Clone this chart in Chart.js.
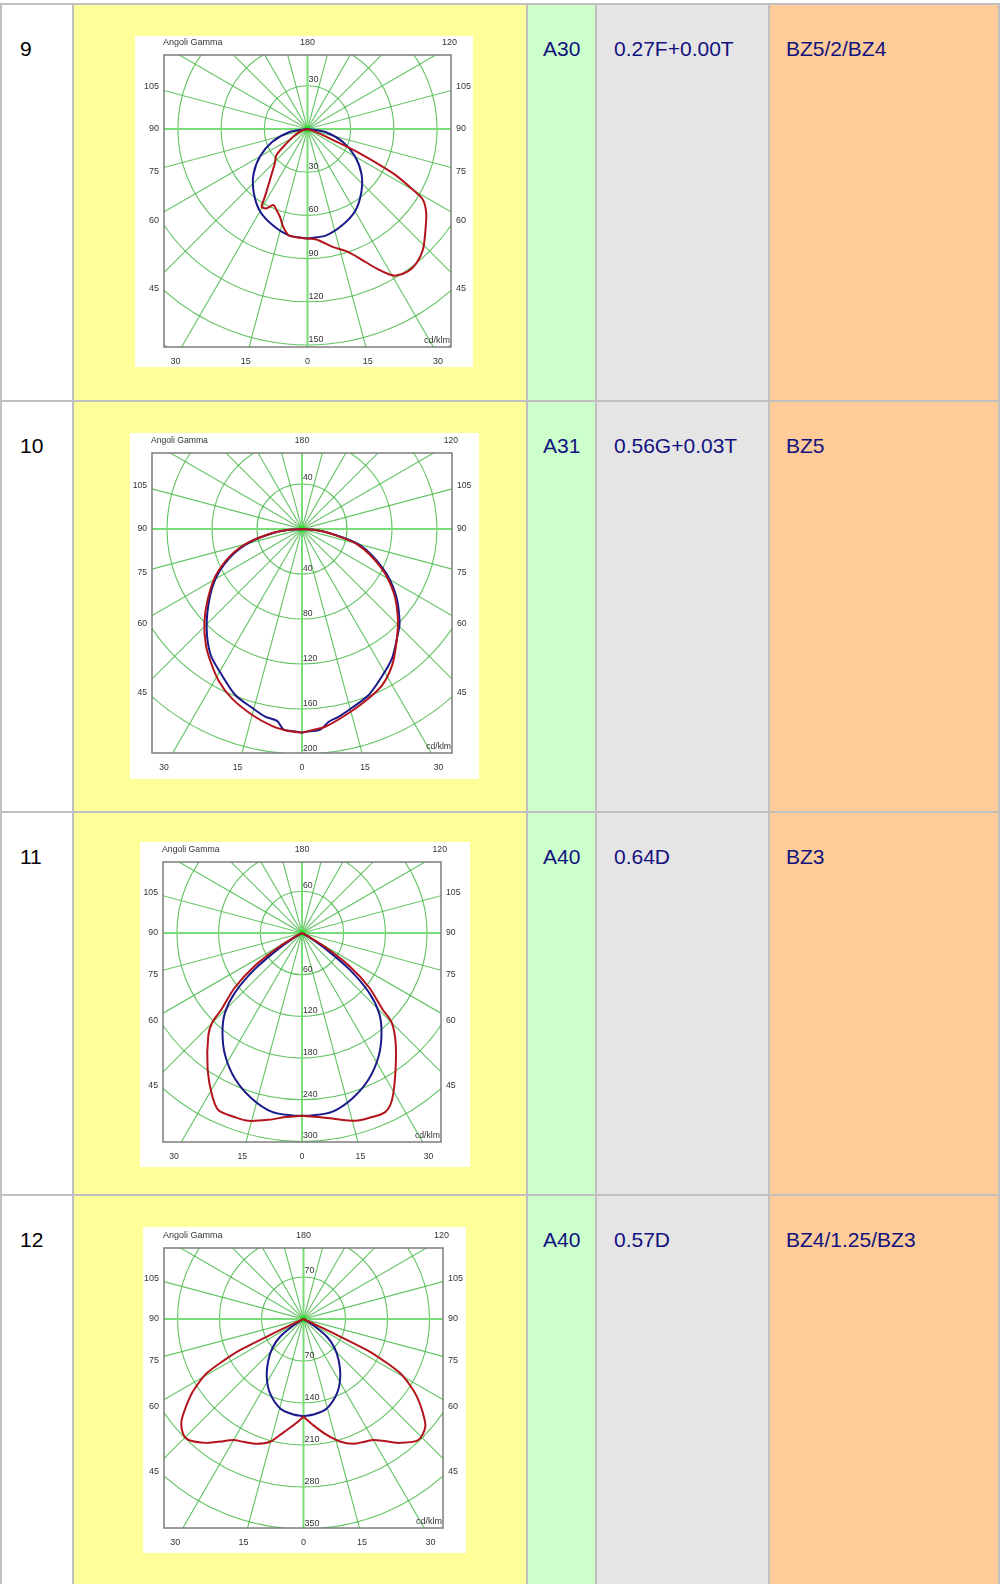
<!DOCTYPE html>
<html><head><meta charset="utf-8">
<script src="https://cdn.jsdelivr.net/npm/chart.js@4"></script>
<style>
html,body{margin:0;padding:0;background:#fff;}
body{width:1000px;height:1584px;position:relative;overflow:hidden;font-family:"Liberation Sans",Arial,sans-serif;}
.cell{position:absolute;}
.txt{position:absolute;font-size:21px;line-height:24px;color:#12127e;white-space:nowrap;}
.num{color:#000;}
canvas.pd{position:absolute;background:#fff;}
</style></head><body>
<script>
// ---------- table text ----------
const rowNumbers = ["9", "10", "11", "12"];
const lampClasses = ["A30", "A31", "A40", "A40"];
const utilFactors = ["0.27F+0.00T", "0.56G+0.03T", "0.64D", "0.57D"];
const bzClasses = ["BZ5/2/BZ4", "BZ5", "BZ3", "BZ4/1.25/BZ3"];

// ---------- diagram labels ----------
const diagramTitle = "Angoli Gamma";
const topAngleLabels = ["180", "120"];
const sideAngleLabels = ["105", "90", "75", "60", "45"];
const bottomAngleLabels = ["30", "15", "0", "15", "30"];
const unitLabel = "cd/klm";
const ringSteps = [30, 40, 60, 70];

// ---------- diagram 1 (row 9) ----------
const d1RedLeftGamma  = [0, 5.8, 10.3, 14, 17.5, 21, 24.3, 27.3, 30.6, 31.4, 33.2, 36.4, 43.6, 50, 55.7, 65, 75, 90];
const d1RedLeftCd     = [76, 75.6, 74.8, 69.9, 63.8, 60.2, 57.9, 62, 62.7, 59.1, 52, 44, 32.9, 28.1, 17.7, 9, 4, 0];
const d1RedRightGamma = [0, 4.6, 12.3, 17.6, 22, 26.3, 29.4, 31.2, 35.2, 39.1, 43.7, 49.3, 54.7, 58.5, 60, 62.6, 65.1, 66.8, 70, 90];
const d1RedRightCd    = [76, 77, 84, 89, 97, 108, 116, 119, 121, 120, 116, 108, 101, 94, 85, 67, 40, 19, 6, 0];
const d1BlueGamma     = [0, 10, 20, 30, 40, 50, 60, 70, 80, 90];
const d1BlueCd        = [76, 75, 71, 66, 58, 49, 38, 26, 13, 0];

// ---------- diagram 2 (row 10) ----------
const d2RedLeftGamma   = [0, 3.8, 8.7, 15.1, 22.5, 28.7, 34.7, 39.6, 46.3, 53.5, 61.7, 69.9, 76, 82, 86, 90];
const d2RedLeftCd      = [181, 180, 177, 171, 163, 154, 143, 134, 120, 104, 87, 67, 49, 27, 13, 0];
const d2RedRightGamma  = [0, 2.9, 6.7, 13.1, 20.2, 27.2, 33.6, 39.4, 46.3, 54.9, 64, 74.5, 81.5, 86, 90];
const d2RedRightCd     = [181, 179, 177, 170, 163, 156, 145, 132, 118, 100, 78, 51, 24, 12, 0];
const d2BlueLeftGamma  = [0, 2, 5.2, 7.4, 11.1, 15.6, 21.9, 28.8, 36.1, 44, 53.5, 61.7, 69.9, 76, 82, 86, 90];
const d2BlueLeftCd     = [181, 180, 179, 172, 170, 165, 159, 148, 138, 122, 102, 85, 65, 47, 26, 13, 0];
const d2BlueRightGamma = [0, 2, 5.2, 7.9, 11.1, 15.6, 21.9, 28.5, 34.9, 42, 46.3, 54.9, 64, 74.5, 81.5, 86, 90];
const d2BlueRightCd    = [181, 180, 179, 173, 170, 165, 159, 149, 140, 127, 120, 102, 80, 53, 25, 12, 0];

// ---------- diagram 3 (row 11) ----------
const d3RedLeftGamma  = [0, 5.2, 10.1, 15.9, 19.9, 25.2, 29, 34.8, 42.4, 45.1, 46.6, 51, 55.3, 59, 62, 90];
const d3RedLeftCd     = [263, 266, 273, 281, 282, 282, 267, 238, 200, 182, 159, 124, 82, 39, 12, 0];
const d3RedRightGamma = [0, 5.2, 10.2, 15.9, 19.8, 25, 28.5, 33.9, 40.6, 45.1, 46.6, 51, 55.3, 59, 62, 90];
const d3RedRightCd    = [263, 266, 272, 281, 283, 284, 272, 241, 207, 182, 159, 124, 82, 39, 12, 0];
const d3BlueGamma     = [0, 3, 9.5, 16.8, 24.6, 32.1, 38.7, 44.1, 48.5, 52.6, 56.1, 59, 62, 90];
const d3BlueCd        = [263, 263, 261, 249, 231, 208, 183, 159, 128, 85, 41, 15, 0, 0];

// ---------- diagram 4 (row 12) ----------
const d4RedLeftGamma  = [0, 5.4, 11.4, 15.2, 20.5, 26.1, 30, 34.2, 38, 43.5, 46.5, 50.3, 55.6, 58, 60.7, 62.5, 63.9, 64.5, 65.5, 90];
const d4RedLeftCd     = [163, 178, 197, 212, 222, 228, 233, 247, 262, 278, 277, 264, 229, 210, 185, 150, 117, 55, 0, 0];
const d4RedRightGamma = [0, 5, 11, 16.6, 21.8, 26, 30, 34, 38, 43.5, 48.5, 52, 55.6, 58, 60.7, 62.5, 63.9, 64.5, 65.5, 90];
const d4RedRightCd    = [163, 177, 196, 213, 224, 228, 233, 246, 262, 278, 271, 252, 229, 210, 185, 150, 117, 55, 0, 0];
const d4BlueGamma     = [0, 6, 14.6, 24.2, 32.5, 40.5, 47.3, 52.9, 57, 60, 90];
const d4BlueCd        = [162, 160, 154, 136, 114, 90, 70, 49, 20, 0, 0];

// ---------- layout (positions only) ----------
const colX = [[2, 72], [74, 526], [528, 595], [597, 768], [770, 998]];
const rowY = [[5, 400], [402, 811], [813, 1194], [1196, 1600]];
const colColors = ["#ffffff", "#ffff99", "#ccffcc", "#e5e5e5", "#ffcc99"];
const textX = [20, null, 543, 614, 786];
const diagLayout = [
  {left: 135, top: 36,   w: 338, h: 331, bl: 29, bt: 19, bw: 287, bh: 292, cy: 74, ring: 43.2, fs: 9},
  {left: 130, top: 433,  w: 349, h: 346, bl: 22, bt: 20, bw: 300, bh: 300, cy: 76, ring: 45,   fs: 8.6},
  {left: 140, top: 842,  w: 330, h: 325, bl: 23, bt: 20, bw: 278, bh: 280, cy: 71, ring: 41.7, fs: 8.7},
  {left: 143, top: 1227, w: 323, h: 326, bl: 21, bt: 21, bw: 279, bh: 280, cy: 71, ring: 42,   fs: 9}
];

// ---------- build table ----------
const bg = document.createElement('div');
bg.className = 'cell';
Object.assign(bg.style, {left: '0px', top: '3px', width: '1000px', height: '1581px', background: '#c0c0c0'});
document.body.appendChild(bg);
rowY.forEach((ry, r) => {
  colX.forEach((cx, c) => {
    const d = document.createElement('div');
    d.className = 'cell';
    Object.assign(d.style, {left: cx[0] + 'px', top: ry[0] + 'px', width: (cx[1] - cx[0]) + 'px', height: (ry[1] - ry[0]) + 'px', background: colColors[c]});
    document.body.appendChild(d);
  });
  const texts = [rowNumbers[r], null, lampClasses[r], utilFactors[r], bzClasses[r]];
  texts.forEach((t, c) => {
    if (t === null) return;
    const s = document.createElement('div');
    s.className = 'txt' + (c === 0 ? ' num' : '');
    s.textContent = t;
    Object.assign(s.style, {left: textX[c] + 'px', top: (ry[0] + 31.5) + 'px'});
    document.body.appendChild(s);
  });
});

// ---------- diagrams ----------
function toPoints(lg, lc, rg, rc) {
  const pts = [];
  for (let i = lg.length - 1; i >= 0; i--) {
    const g = lg[i] * Math.PI / 180;
    pts.push({x: -lc[i] * Math.sin(g), y: -lc[i] * Math.cos(g)});
  }
  for (let i = 0; i < rg.length; i++) {
    const g = rg[i] * Math.PI / 180;
    pts.push({x: rc[i] * Math.sin(g), y: -rc[i] * Math.cos(g)});
  }
  return pts;
}

const diagrams = [
  {red: toPoints(d1RedLeftGamma, d1RedLeftCd, d1RedRightGamma, d1RedRightCd), blue: toPoints(d1BlueGamma, d1BlueCd, d1BlueGamma, d1BlueCd)},
  {red: toPoints(d2RedLeftGamma, d2RedLeftCd, d2RedRightGamma, d2RedRightCd), blue: toPoints(d2BlueLeftGamma, d2BlueLeftCd, d2BlueRightGamma, d2BlueRightCd)},
  {red: toPoints(d3RedLeftGamma, d3RedLeftCd, d3RedRightGamma, d3RedRightCd), blue: toPoints(d3BlueGamma, d3BlueCd, d3BlueGamma, d3BlueCd)},
  {red: toPoints(d4RedLeftGamma, d4RedLeftCd, d4RedRightGamma, d4RedRightCd), blue: toPoints(d4BlueGamma, d4BlueCd, d4BlueGamma, d4BlueCd)}
];

const sideFrac = [-0.146, 0, 0.147, 0.314, 0.545];
const bottomFrac = [-0.92, -0.43, 0, 0.42, 0.91];

function makePlugin(step, L) {
  return {
    id: 'polarGrid',
    beforeDatasetsDraw(chart) {
      const {ctx, chartArea: a, scales: {x, y}} = chart;
      const cx = x.getPixelForValue(0), cy = y.getPixelForValue(0);
      const pr = x.getPixelForValue(step) - cx;
      ctx.save();
      ctx.beginPath();
      ctx.rect(a.left, a.top, a.right - a.left, a.bottom - a.top);
      ctx.clip();
      ctx.strokeStyle = 'rgba(70,185,70,0.85)';
      ctx.lineWidth = 1.1;
      for (let k = 1; k <= 8; k++) {
        ctx.beginPath();
        ctx.arc(cx, cy, k * pr, 0, Math.PI * 2);
        ctx.stroke();
      }
      const far = 2000;
      for (let deg = 15; deg < 180; deg += 15) {
        if (deg === 90) continue;
        const t = deg * Math.PI / 180;
        ctx.beginPath();
        ctx.moveTo(cx - far * Math.sin(t), cy - far * Math.cos(t));
        ctx.lineTo(cx + far * Math.sin(t), cy + far * Math.cos(t));
        ctx.stroke();
      }
      ctx.strokeStyle = '#78dc78';
      ctx.lineWidth = 2;
      ctx.beginPath();
      ctx.moveTo(a.left, cy); ctx.lineTo(a.right, cy);
      ctx.moveTo(cx, a.top); ctx.lineTo(cx, a.bottom);
      ctx.stroke();
      ctx.fillStyle = '#2fe02f';
      ctx.beginPath();
      ctx.arc(cx, cy, 3.5, 0, Math.PI * 2);
      ctx.fill();
      ctx.restore();
    },
    afterDraw(chart) {
      const {ctx, chartArea: a, scales: {x, y}} = chart;
      const cx = x.getPixelForValue(0), cy = y.getPixelForValue(0);
      const pr = x.getPixelForValue(step) - cx;
      const bw = a.right - a.left, bh = a.bottom - a.top;
      ctx.save();
      ctx.strokeStyle = '#7c7c7c';
      ctx.lineWidth = 1.5;
      ctx.strokeRect(a.left, a.top, bw, bh);
      ctx.fillStyle = '#333';
      ctx.font = L.fs + 'px "Liberation Sans", Arial, sans-serif';
      ctx.textBaseline = 'middle';
      const ty = a.top - 12;
      ctx.textAlign = 'left';
      ctx.fillText(diagramTitle, a.left - 1, ty);
      ctx.textAlign = 'center';
      ctx.fillText(topAngleLabels[0], cx, ty);
      ctx.textAlign = 'right';
      ctx.fillText(topAngleLabels[1], a.right + 6, ty);
      sideAngleLabels.forEach((lab, i) => {
        const ly = cy + sideFrac[i] * bh;
        ctx.textAlign = 'right';
        ctx.fillText(lab, a.left - 5, ly);
        ctx.textAlign = 'left';
        ctx.fillText(lab, a.right + 5, ly);
      });
      ctx.textAlign = 'center';
      bottomAngleLabels.forEach((lab, i) => {
        ctx.fillText(lab, cx + bottomFrac[i] * bw / 2, a.bottom + 14.5);
      });
      ctx.textAlign = 'right';
      ctx.fillText(unitLabel, a.right - 1, a.bottom - 6);
      ctx.textAlign = 'left';
      ctx.fillText(String(step), cx + 1, cy - pr - 6);
      for (let k = 1; k <= 5; k++) {
        ctx.fillText(String(step * k), cx + 1, cy + k * pr - 5.5);
      }
      ctx.restore();
    }
  };
}

diagrams.forEach((d, i) => {
  const L = diagLayout[i];
  const step = ringSteps[i];
  const cv = document.createElement('canvas');
  cv.className = 'pd';
  cv.width = L.w; cv.height = L.h;
  Object.assign(cv.style, {left: L.left + 'px', top: L.top + 'px', width: L.w + 'px', height: L.h + 'px'});
  document.body.appendChild(cv);
  const ppu = L.ring / step;
  new Chart(cv, {
    type: 'scatter',
    data: {datasets: [
      {data: d.red, showLine: true, borderColor: '#b3141c', borderWidth: 2, pointRadius: 0, fill: false, tension: 0.3, borderJoinStyle: 'round'},
      {data: d.blue, showLine: true, borderColor: '#1a1a8a', borderWidth: 2, pointRadius: 0, fill: false, tension: 0.3, borderJoinStyle: 'round'}
    ]},
    options: {
      responsive: false, animation: false, devicePixelRatio: 1, events: [],
      layout: {padding: {left: L.bl, top: L.bt, right: L.w - L.bl - L.bw, bottom: L.h - L.bt - L.bh}},
      plugins: {legend: {display: false}, tooltip: {enabled: false}},
      scales: {
        x: {type: 'linear', display: false, min: -(L.bw / 2) / ppu, max: (L.bw / 2) / ppu},
        y: {type: 'linear', display: false, min: -(L.bh - L.cy) / ppu, max: L.cy / ppu}
      }
    },
    plugins: [makePlugin(step, L)]
  });
});
</script>
</body></html>
